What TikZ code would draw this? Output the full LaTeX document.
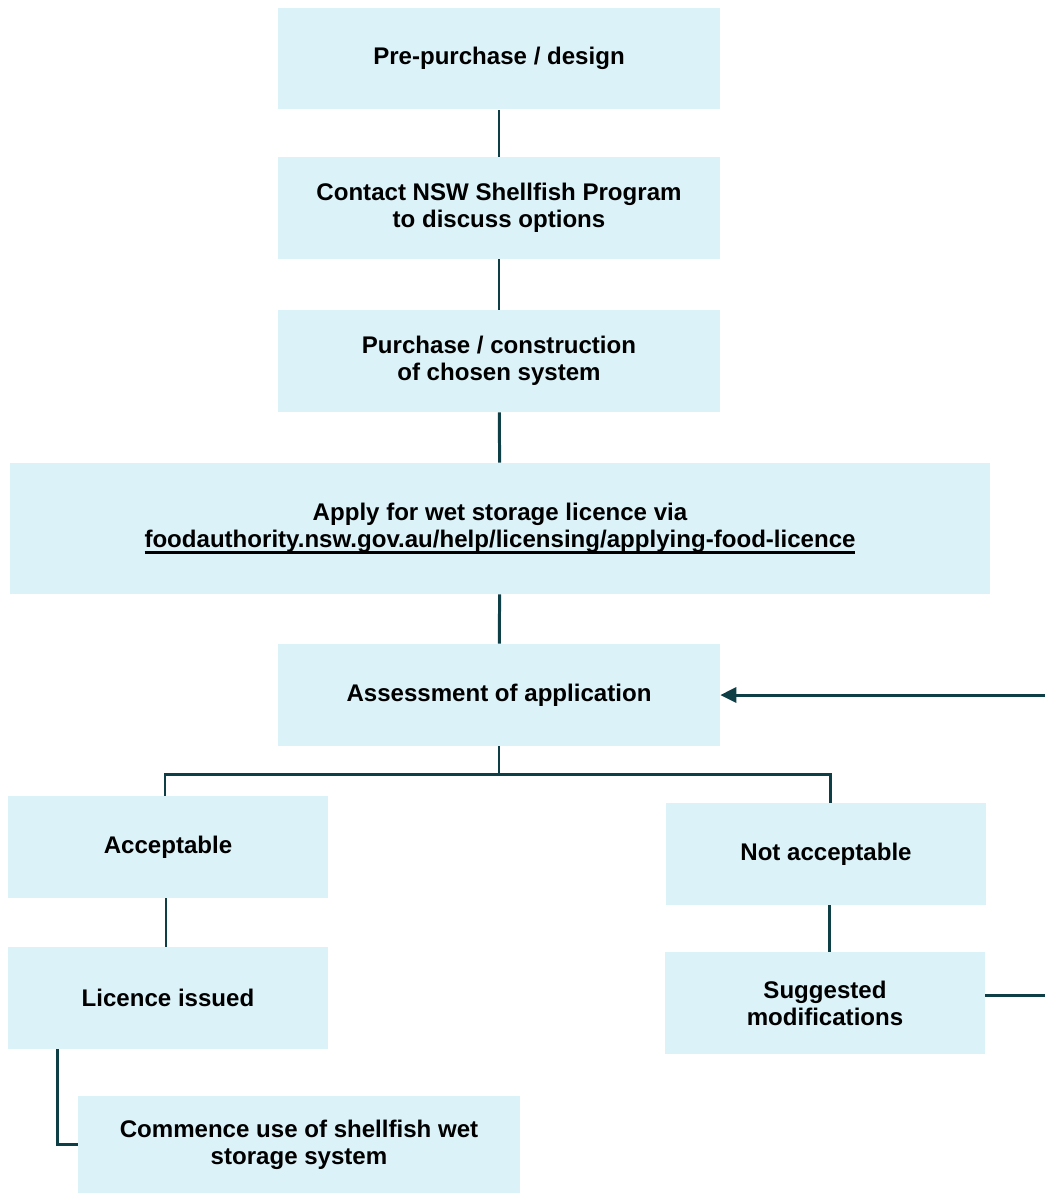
\documentclass[tikz,border=0pt]{standalone}
\usepackage{fontspec}
\setmainfont{Liberation Sans}
\usetikzlibrary{arrows.meta,calc}
\definecolor{boxfill}{HTML}{DAF2F8}
\definecolor{linkline}{HTML}{0E3F47}
\newcommand{\ulink}[1]{\setbox0=\hbox{#1}\leavevmode\rlap{\copy0}\raisebox{-3.4pt}{\rule{\wd0}{1.3pt}}}

\begin{document}
\begin{tikzpicture}[
 x=0.02cm, y=-0.02cm,
 box/.style={fill=boxfill, draw=none, align=center, inner sep=0pt,
 font=\fontsize{13.7}{15.4}\selectfont\bfseries,
 minimum width=8.84cm, minimum height=2.04cm},
 smallbox/.style={box, minimum width=6.4cm},
 ln/.style={draw=linkline, line width=1.7pt},
 ar/.style={ln, -{Triangle[length=3.2mm,width=3mm]}},
]
 \useasboundingbox (0,0) rectangle (1045,1194);
 \node[box] (pre) at (499,58.5) {Pre-purchase / design};
 \node[box] (contact) at (499,208) {Contact NSW Shellfish Program\\ to discuss options};
 \node[box] (purch) at (499,361) {Purchase / construction\\ of chosen system};
 \node[box, minimum width=19.6cm, minimum height=2.62cm] (apply) at (500,528.5)
  {Apply for wet storage licence via\\ \ulink{foodauthority.nsw.gov.au/help/licensing/applying-food-licence}};
 \node[box] (assess) at (499,695) {Assessment of application};
 \node[smallbox] (acc) at (168,847) {Acceptable};
 \node[smallbox] (notacc) at (826,854) {Not acceptable};
 \node[smallbox] (lic) at (168,998) {Licence issued};
 \node[smallbox] (sugg) at (825,1003) {Suggested\\ modifications};
 \node[box, minimum height=1.94cm] (comm) at (299,1144.5) {Commence use of shellfish wet\\ storage system};
 \coordinate (split) at (499,774);
 \coordinate (loop) at (1055,995);

 \draw[ln] (pre) -- (contact);
 \draw[ln] (contact) -- (purch);
 \draw[ln] (purch) -- (apply);
 \draw[ln] (apply) -- (assess);
 \draw[ln] (assess.south) -- (split);
 \draw[ln] (split) -| (acc.north -| 165,0);
 \draw[ln] (split) -| (notacc.north -| 830,0);
 \draw[ln] (acc.south -| 166,0) -- (lic.north -| 166,0);
 \draw[ln] (notacc.south -| 829,0) -- (sugg.north -| 829,0);
 \draw[ln] ($(lic.south west)+(50,0)$) |- (comm.west);
 \draw[ar] (sugg.east |- loop) -- (loop) |- (assess.east);
\end{tikzpicture}
\end{document}
